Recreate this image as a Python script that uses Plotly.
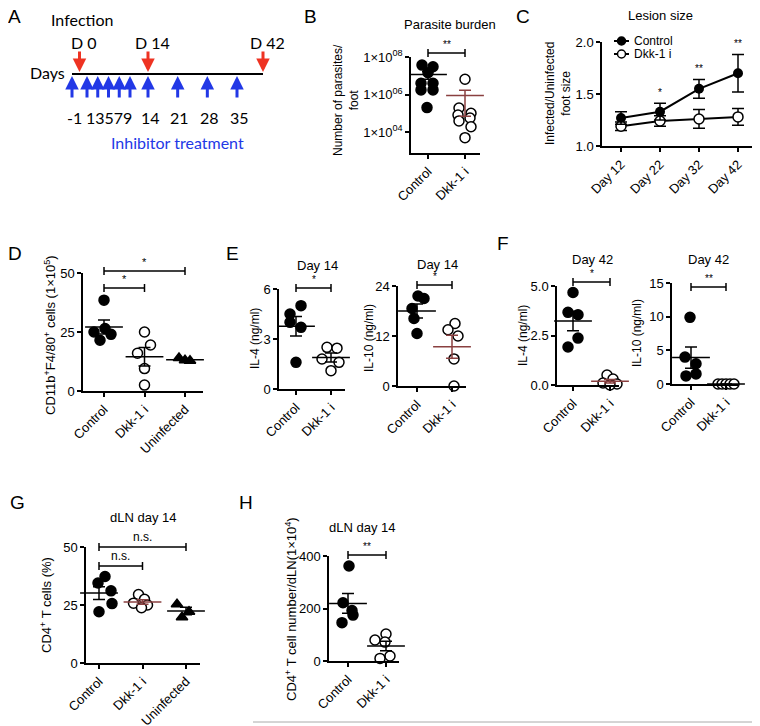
import numpy as np
import plotly.graph_objects as go

W, H = 760, 726
OX, OY = 8, 8          # the page puts the plot 8 px in from the top-left corner
FONT = "Liberation Sans"
BROWN = "#8a4040"
RED = "#ee3322"
BLUE = "#2238e6"

# ---------------- data ----------------
# A: schedule
infection_days = [0, 14, 42]
treatment_days = [-1, 1, 3, 5, 7, 9, 14, 21, 28, 35]

# B: parasite burden
b_groups = ["Control", "Dkk-1 i"]
b_control = [3.7e7, 3.0e7, 1.45e7, 4.0e6, 4.0e6, 1.75e6, 1.75e6, 2.0e5]
b_dkk = [6.5e6, 1.9e5, 1.0e5, 8.0e4, 5.6e4, 3.9e4, 1.9e4, 5.0e3]

# C: lesion size
c_days = ["Day 12", "Day 22", "Day 32", "Day 42"]
c_control = [1.27, 1.33, 1.55, 1.70]
c_control_sem = [0.06, 0.08, 0.09, 0.18]
c_dkk = [1.19, 1.24, 1.26, 1.28]
c_dkk_sem = [0.04, 0.05, 0.09, 0.08]
c_stars = ["", "*", "**", "**"]

# D: CD11b+F4/80+ cells
d_groups = ["Control", "Dkk-1 i", "Uninfected"]
d_control = [38.5, 26.5, 25.0, 24.0, 21.5]
d_dkk = [25.0, 19.5, 16.0, 9.5, 2.5]
d_uninf = [14.0, 13.0, 12.8]

# E: day 14 cytokines
e_groups = ["Control", "Dkk-1 i"]
e_il4_control = [5.0, 4.5, 4.0, 3.7, 1.6]
e_il4_dkk = [2.5, 2.45, 1.8, 1.6, 1.1]
e_il10_control = [21.6, 21.0, 18.6, 16.2, 12.6]
e_il10_dkk = [15.0, 13.5, 12.0, 6.5, 0.0]

# F: day 42 cytokines
f_il4_control = [4.67, 3.67, 3.55, 2.37, 1.92]
f_il4_dkk = [0.5, 0.3, 0.1, 0.05, 0.0]
f_il10_control = [9.9, 4.0, 3.0, 1.5, 1.2]
f_il10_dkk = [0.0, 0.0, 0.0, 0.0, 0.0]

# G: CD4+ T cells (%)
g_control = [37.3, 34.5, 31.1, 25.6, 22.1]
g_dkk = [29.5, 27.5, 25.8, 25.0, 23.8]
g_uninf = [25.3, 22.1, 19.7]

# H: CD4+ T cell number / dLN
h_control = [362, 222, 192, 175, 146]
h_dkk = [103, 80, 72, 19, 10]

# horizontal scatter of the dots (pixels), style only
b_control_dx = [-6, 5, 0, -7, 5, -7, 5, -1]
b_dkk_dx = [0, -6, 6, -7, 5, -6, 6, 0]
d_control_dx = [0, 1, -10, 7, -4]
d_dkk_dx = [0, 6, -7, 0, 0]
d_uninf_dx = [-6, 0, 5]
e_il4_control_dx = [5, -6, -6, 5, 0]
e_il4_dkk_dx = [-4, 6, -9, 8, 0]
e_il10_control_dx = [1, 7, -5, -3, 0]
e_il10_dkk_dx = [3, -4, 6, 2, 2]
f_il4_control_dx = [0, -5, 5, 5, -5]
f_il4_dkk_dx = [-3, 3, -7, 7, 0]
f_il10_control_dx = [-1, -6, 5, 5, -5]
f_il10_dkk_dx = [-8, -4, 0, 4, 8]
g_control_dx = [6, -1, 12, 13, 0]
g_dkk_dx = [-4, 2, -9, 5, -1]
g_uninf_dx = [-9, 3, -4]
h_control_dx = [1, -5, 4, 5, -6]
h_dkk_dx = [0, -11, -1, 4, -6]

# ---------------- helpers ----------------
fig = go.Figure()
layout = {}
shapes = []
anns = []

axis_style = dict(showline=True, linecolor="black", linewidth=1.5, ticks="outside",
                  ticklen=4, tickwidth=1.5, tickcolor="black", showgrid=False,
                  zeroline=False, automargin=False,
                  tickfont=dict(size=13, color="black", family=FONT))


def px(x):
    return (x - OX) / W


def py(y):
    return 1 - (y - OY) / H


def add_axes(i, box, cats_px, labels, yrange, yticks, yticktext=None, ylog=False):
    left, right, top, bottom = box
    ppc = (cats_px[-1] - cats_px[0]) / (len(cats_px) - 1)
    xr = [(left - cats_px[0]) / ppc, (right - cats_px[0]) / ppc]
    s = "" if i == 1 else str(i)
    layout["xaxis" + s] = dict(domain=[px(left), px(right)], range=xr, anchor="y" + s,
                               tickvals=list(range(len(labels))), ticktext=labels,
                               tickangle=-45, **axis_style)
    ya = dict(domain=[py(bottom), py(top)], range=yrange, anchor="x" + s,
              type="log" if ylog else "linear", tickvals=yticks, **axis_style)
    if yticktext is not None:
        ya["ticktext"] = yticktext
    layout["yaxis" + s] = ya
    return "x" + s, "y" + s, ppc


def column(xa, ya, ppc, k, values, dx, symbol="circle", filled=True, mean_color="black"):
    xs = [k + d / ppc for d in dx]
    fig.add_trace(go.Scatter(
        x=xs, y=values, mode="markers", xaxis=xa, yaxis=ya, cliponaxis=False,
        marker=dict(symbol=symbol, size=10,
                    color="black" if filled else "white",
                    line=dict(color="black", width=1.5)),
        hoverinfo="y"))
    v = np.array(values, dtype=float)
    m = v.mean()
    sem = v.std(ddof=1) / np.sqrt(len(v))
    fig.add_trace(go.Scatter(
        x=[k], y=[m], mode="markers", xaxis=xa, yaxis=ya, cliponaxis=False,
        marker=dict(symbol="line-ew", size=27, line=dict(color=mean_color, width=1.5)),
        error_y=dict(type="data", array=[sem], width=6, thickness=1.5, color=mean_color),
        hoverinfo="skip"))


def text(x, y, s, size=12, color="black", family=FONT, xanchor="center",
         yanchor="middle", angle=0):
    anns.append(dict(x=px(x), y=py(y), xref="paper", yref="paper", text=s,
                     showarrow=False, font=dict(size=size, color=color, family=family),
                     xanchor=xanchor, yanchor=yanchor, textangle=angle))


def sig(xa, a, b, y, label, size=11, d=4):
    line = dict(color="black", width=1.5)
    shapes.append(dict(type="line", xref=xa, yref="paper", x0=a, x1=b,
                       y0=py(y), y1=py(y), line=line))
    for e in (a, b):
        shapes.append(dict(type="line", xref=xa, yref="paper", x0=e, x1=e,
                           y0=py(y - d), y1=py(y + d), line=line))
    anns.append(dict(x=(a + b) / 2, y=py(y - 1), xref=xa, yref="paper", text=label,
                     showarrow=False, yanchor="bottom",
                     font=dict(size=size, color="black", family=FONT)))


# ---------------- panel A ----------------
day_anchor = [-1, 1, 9, 14, 35, 42]
px_anchor = [72, 87, 130, 148, 237, 263]


def day_x(d):
    return float(np.interp(d, day_anchor, px_anchor))


AF = "Lato"
text(15, 17, "A", size=19)
text(82, 20, "Infection", size=16, family=AF)
text(67, 73, "Days", size=16, family=AF, xanchor="right")
shapes.append(dict(type="line", xref="paper", yref="paper", x0=px(day_x(-1)),
                   x1=px(day_x(42)), y0=py(74), y1=py(74),
                   line=dict(color="black", width=2)))
for d in infection_days:
    x = day_x(d)
    text(x + 4, 42, "D %d" % d, size=16, family=AF)
    anns.append(dict(x=px(x), y=py(72), xref="paper", yref="paper", ax=0, ay=-22,
                     text="", showarrow=True, arrowhead=2, arrowsize=0.9,
                     arrowwidth=3, arrowcolor=RED, standoff=0))
for d in treatment_days:
    x = day_x(d)
    anns.append(dict(x=px(x), y=py(76), xref="paper", yref="paper", ax=0, ay=23,
                     text="", showarrow=True, arrowhead=2, arrowsize=0.9,
                     arrowwidth=3, arrowcolor=BLUE, standoff=0))
early = [d for d in treatment_days if 0 < d < 10]
late = [d for d in treatment_days if d < 0 or d >= 10]
text((day_x(early[0]) + day_x(early[-1])) / 2, 117, "".join(str(d) for d in early),
     size=16, family=AF)
for d in late:
    text(day_x(d) + 2, 117, str(d), size=16, family=AF)
text(177, 143, "Inhibitor treatment", size=16, family=AF, color=BLUE)

# ---------------- panel B ----------------
xa, ya, ppc = add_axes(1, (411, 480, 57, 153), [428, 465], b_groups, [2.88, 8],
                       [1e4, 1e6, 1e8],
                       ["1×10<sup>04</sup>", "1×10<sup>06</sup>", "1×10<sup>08</sup>"],
                       ylog=True)
column(xa, ya, ppc, 0, b_control, b_control_dx)
column(xa, ya, ppc, 1, b_dkk, b_dkk_dx, filled=False, mean_color=BROWN)
sig(xa, 0, 1, 53, "**", size=10)
text(310, 16, "B", size=19)
text(450, 25, "Parasite burden", size=13)
text(346, 100, "Number of parasites/<br>foot", size=12, angle=-90)

# ---------------- panel C ----------------
xa, ya, ppc = add_axes(2, (602, 757, 42, 146), [621, 660, 699, 738], c_days, [1, 2],
                       [1.0, 1.5, 2.0], ["1.0", "1.5", "2.0"])
cx = list(range(len(c_days)))
fig.add_trace(go.Scatter(x=cx, y=c_dkk, mode="lines+markers", xaxis=xa, yaxis=ya,
                         line=dict(color="black", width=2), cliponaxis=False,
                         marker=dict(size=10, color="white", line=dict(color="black", width=1.5)),
                         error_y=dict(type="data", array=c_dkk_sem, width=6, thickness=1.5,
                                      color="black")))
fig.add_trace(go.Scatter(x=cx, y=c_control, mode="lines+markers", xaxis=xa, yaxis=ya,
                         line=dict(color="black", width=2), cliponaxis=False,
                         marker=dict(size=10, color="black"),
                         error_y=dict(type="data", array=c_control_sem, width=6,
                                      thickness=1.5, color="black")))
for k, s in enumerate(c_stars):
    if s:
        anns.append(dict(x=k, y=c_control[k] + c_control_sem[k], xref=xa, yref=ya,
                         text=s, showarrow=False, yanchor="bottom", yshift=3,
                         font=dict(size=10, color="black", family=FONT)))
for row, (name, fill) in enumerate([("Control", "black"), ("Dkk-1 i", "white")]):
    y = 41 + row * 13
    shapes.append(dict(type="line", xref="paper", yref="paper", x0=px(614), x1=px(629),
                       y0=py(y), y1=py(y), line=dict(color="black", width=2)))
    shapes.append(dict(type="circle", xref="paper", yref="paper", xsizemode="pixel",
                       ysizemode="pixel", xanchor=px(621.5), yanchor=py(y),
                       x0=-4, x1=4, y0=-4, y1=4, fillcolor=fill,
                       line=dict(color="black", width=1.5)))
    text(632, y, name, size=12, xanchor="left")
text(523, 16, "C", size=19)
text(660, 15, "Lesion size", size=13)
text(558, 94, "Infected/Uninfected<br>foot size", size=12, angle=-90)

# ---------------- panel D ----------------
xa, ya, ppc = add_axes(3, (83, 203, 273, 391), [104, 144.5, 185], d_groups, [0, 50],
                       [0, 25, 50])
column(xa, ya, ppc, 0, d_control, d_control_dx)
column(xa, ya, ppc, 1, d_dkk, d_dkk_dx, filled=False)
column(xa, ya, ppc, 2, d_uninf, d_uninf_dx, symbol="triangle-up")
sig(xa, 0, 2, 271, "*")
sig(xa, 0, 1, 288, "*")
text(15, 253, "D", size=19)
text(50, 335, "CD11b<sup>+</sup>F4/80<sup>+</sup> cells (1×10<sup>5</sup>)", size=13,
     angle=-90)

# ---------------- panel E ----------------
xa, ya, ppc = add_axes(4, (279, 345, 289, 389), [296, 331], e_groups, [0, 6], [0, 3, 6])
column(xa, ya, ppc, 0, e_il4_control, e_il4_control_dx)
column(xa, ya, ppc, 1, e_il4_dkk, e_il4_dkk_dx, filled=False)
sig(xa, 0, 1, 288, "*", size=10)
text(317, 265, "Day 14", size=13)
text(255, 339, "IL-4 (ng/ml)", size=12, angle=-90)

xa, ya, ppc = add_axes(5, (398, 466, 286, 386), [417, 452], e_groups, [0, 24],
                       [0, 12, 24])
column(xa, ya, ppc, 0, e_il10_control, e_il10_control_dx)
column(xa, ya, ppc, 1, e_il10_dkk, e_il10_dkk_dx, filled=False, mean_color=BROWN)
sig(xa, 0, 1, 285, "*", size=10)
text(437, 264, "Day 14", size=13)
text(369, 338, "IL-10 (ng/ml)", size=12, angle=-90)
text(233, 253, "E", size=19)

# ---------------- panel F ----------------
xa, ya, ppc = add_axes(6, (557, 619, 286, 385), [573, 610], e_groups, [0, 5],
                       [0, 2.5, 5], ["0.0", "2.5", "5.0"])
column(xa, ya, ppc, 0, f_il4_control, f_il4_control_dx)
column(xa, ya, ppc, 1, f_il4_dkk, f_il4_dkk_dx, filled=False, mean_color=BROWN)
sig(xa, 0, 1, 282, "*", size=10)
text(592, 260, "Day 42", size=13)
text(523, 336, "IL-4 (ng/ml)", size=12, angle=-90)

xa, ya, ppc = add_axes(7, (672, 738, 283, 384), [691, 726], e_groups, [0, 15],
                       [0, 5, 10, 15])
column(xa, ya, ppc, 0, f_il10_control, f_il10_control_dx)
column(xa, ya, ppc, 1, f_il10_dkk, f_il10_dkk_dx, filled=False)
sig(xa, 0, 1, 287, "**", size=10)
text(708, 260, "Day 42", size=13)
text(637, 333, "IL-10 (ng/ml)", size=12, angle=-90)
text(503, 243, "F", size=19)

# ---------------- panel G ----------------
xa, ya, ppc = add_axes(8, (86, 200, 547, 663), [99, 142.5, 186], d_groups, [0, 50],
                       [0, 25, 50])
column(xa, ya, ppc, 0, g_control, g_control_dx)
column(xa, ya, ppc, 1, g_dkk, g_dkk_dx, filled=False, mean_color=BROWN)
column(xa, ya, ppc, 2, g_uninf, g_uninf_dx, symbol="triangle-up")
sig(xa, 0, 2, 547, "n.s.", size=12)
sig(xa, 0, 1, 566, "n.s.", size=12)
text(17, 502, "G", size=19)
text(143, 517, "dLN day 14", size=13)
text(46, 605, "CD4<sup>+</sup> T cells (%)", size=13, angle=-90)

# ---------------- panel H ----------------
xa, ya, ppc = add_axes(9, (329, 399, 556, 661), [348, 386], e_groups, [0, 400],
                       [0, 200, 400])
column(xa, ya, ppc, 0, h_control, h_control_dx)
column(xa, ya, ppc, 1, h_dkk, h_dkk_dx, filled=False)
sig(xa, 0, 1, 555, "**", size=10)
text(246, 502, "H", size=19)
text(362, 527, "dLN day 14", size=13)
text(291, 609, "CD4<sup>+</sup> T cell number/dLN(1×10<sup>4</sup>)", size=13, angle=-90)

shapes.append(dict(type="line", xref="paper", yref="paper", x0=px(253), x1=px(760),
                   y0=py(722), y1=py(722), line=dict(color="#aaaaaa", width=1)))

fig.update_layout(width=W, height=H,
                  margin=dict(l=0, r=0, t=0, b=0, pad=0, autoexpand=False),
                  plot_bgcolor="white", paper_bgcolor="white", showlegend=False,
                  font=dict(family=FONT, color="black"), shapes=shapes,
                  annotations=anns, **layout)

fig.write_html("out.html")
